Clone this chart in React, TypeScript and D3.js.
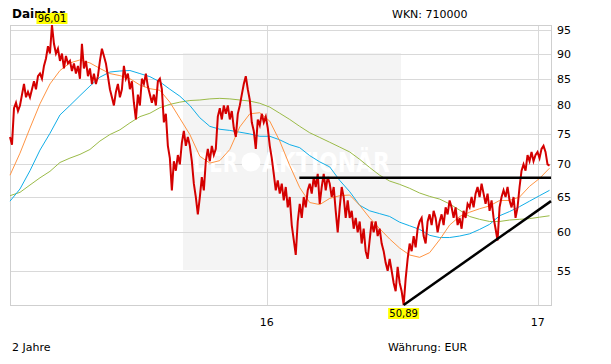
import React from 'react';
import * as d3 from 'd3';

// ---- data ----
const START = new Date(2015, 0, 19);
const END = new Date(2017, 0, 19);
const STEP_DAYS = 2.7; // spacing of price samples
const MA_STEP = 5; // moving-average samples every 5 price samples

const price = [
  74.5, 73.2, 79.5, 80.5, 79, 80, 82, 84, 81.5, 82.5,
  81.5, 83, 84.5, 83, 85.5, 86, 85, 87.5, 89, 91.5,
  90, 96.01, 92, 90, 91, 88.5, 90, 87, 89.5, 88,
  88.5, 86.5, 88, 86, 87.5, 85, 92, 87, 88.5, 85.5,
  87, 84, 86, 84, 85.5, 88.5, 91, 89.5, 88, 85.5,
  83, 81.5, 80, 82.5, 84, 81.5, 83, 87.5, 85, 86,
  83, 84.5, 80.5, 77.5, 82, 80, 85, 84, 86, 83.5,
  82, 80.5, 82, 80, 84.5, 85, 83, 77, 78.5, 73,
  71, 66, 70.5, 69, 71.5, 70, 73.5, 75.5, 73, 74.5,
  73, 70.5, 67, 65, 62.5, 65, 68, 66, 70.5, 72.5,
  70.5, 73, 71.5, 72.5, 78, 79.5, 77.5, 80, 78.5, 80,
  77.5, 79, 76, 74.5, 78.5, 80, 82, 84, 85.5, 83,
  81, 77, 75.5, 72.5, 77.5, 76.5, 78.5, 77, 78, 76,
  73, 71, 68.5, 66, 67.5, 65.5, 67, 64.5, 66.5, 63.5,
  65, 61, 59, 57, 61.5, 64, 62, 65, 63.5, 66,
  67, 65.5, 68, 66.5, 68.5, 64, 66.5, 68.5, 66, 68,
  67, 65, 66.5, 63, 60, 63.5, 66.5, 65, 62, 64.5,
  62, 63, 60.5, 62, 60, 61.5, 58.5, 60.5, 57.5, 56.5,
  59, 61.5, 60, 61.5, 59.5, 60.5, 58.5, 57.5, 56, 55,
  56.5, 55, 53.5, 52.5, 55.5, 53.5, 52.5, 50.89, 54, 56.5,
  58.5, 57.5, 59.5, 58, 60.5, 61.5, 62, 59.5, 58.5, 61.5,
  62.5, 61, 63, 62, 60, 61.5, 62.5, 61, 63.5, 62.5,
  64.5, 63.5, 62, 63.5, 61, 62, 60.5, 63, 62, 64,
  63.5, 65, 63.5, 65.5, 66.5, 65, 67, 65.5, 64, 65.5,
  63, 64.5, 62, 60.5, 58.9, 63.5, 65, 66, 65, 66.5,
  64.5, 63.5, 65, 62, 63.5, 66.5, 69, 70, 69, 71.5,
  70.5, 72, 70.5, 71.5, 72, 71, 72.5, 73, 72, 70,
  69.8,
];

const maShort = [
  68.3, 71.8, 76.0, 80.3, 84.0, 86.6, 88.1, 88.7, 88.1, 87.0,
  86.0, 85.6, 85.0, 83.8, 83.1, 82.8, 80.6, 77.7, 74.9, 71.3,
  70.2, 70.6, 72.4, 76.2, 78.5, 78.7, 77.2, 73.8, 69.8, 66.4,
  64.2, 63.9, 64.8, 65.2, 65.3, 63.8, 62.0, 60.5, 59.1, 57.9,
  57.0, 56.7, 57.3, 59.0, 61.0, 62.2, 62.8, 63.3, 63.7, 64.5,
  64.5, 65.0, 66.6, 67.8, 69.4,
];

const maMid = [
  64.4, 66.2, 69.0, 72.3, 75.1, 78.3, 80.0, 81.8, 83.6, 85.3,
  86.3, 86.5, 86.6, 86.0, 85.4, 84.4, 83.0, 81.7, 80.0, 77.8,
  76.3, 75.8, 75.6, 75.3, 75.0, 74.6, 74.6, 74.0, 73.2, 72.7,
  71.4, 70.4, 69.6, 67.5, 65.8, 63.8, 63.0, 62.6, 62.2, 61.4,
  60.9, 60.4, 59.6, 59.3, 59.3, 59.5, 59.8, 60.4, 61.1, 62.3,
  62.9, 63.6, 64.4, 65.2, 66.0,
];

const maLong = [
  65.2, 65.7, 66.8, 67.9, 68.9, 70.3, 71.0, 71.6, 72.4, 73.8,
  74.9, 75.7, 76.9, 78.0, 78.6, 79.6, 80.2, 80.6, 80.9, 81.0,
  81.2, 81.3, 81.2, 81.0, 80.8, 80.4, 79.7, 78.6, 77.5, 76.3,
  75.2, 74.4, 73.6, 72.8, 72.0, 70.8, 69.5, 68.3, 67.4, 66.9,
  66.3, 65.6, 65.1, 64.7, 64.0, 63.1, 62.2, 61.8, 61.5, 61.5,
  61.7, 61.8, 61.9, 62.1, 62.3,
];

const yTicks = [55, 60, 65, 70, 75, 80, 85, 90, 95];
const xTickDates = [new Date(2016, 0, 1), new Date(2017, 0, 1)];
const xTickLabels = ['16', '17'];
const resistanceDates = [new Date(2016, 1, 14), END];
const resistanceValues = [67.9, 67.9];
const supportEndValue = 64.4;

// ---- layout ----
const W = 611;
const H = 364;
const L = 10, R = 551, T = 25, B = 305;

const DAY = 864e5;
const priceDates = price.map((_, i) => new Date(START.getTime() + i * STEP_DAYS * DAY));
const maDates = maShort.map((_, j) => priceDates[j * MA_STEP]);

const x = d3.scaleTime().domain([START, END]).range([L, R]);
const y = d3.scaleLog().domain([d3.min(price)!, d3.max(price)!]).range([B, T]);

const fmt = (v: number) => v.toFixed(2).replace('.', ',');

export default function App() {
  const line = d3.line<[Date, number]>().x(d => x(d[0])).y(d => y(d[1]));
  const pricePath = line(priceDates.map((d, i) => [d, price[i]]))!;
  const maPath = (arr: number[]) => line(maDates.map((d, j) => [d, arr[j]]))!;

  const maxI = d3.maxIndex(price);
  const minI = d3.minIndex(price);
  const maxX = x(priceDates[maxI]);
  const maxY = y(price[maxI]);
  const minX = x(priceDates[minI]);
  const minY = y(price[minI]);

  const font = '"DejaVu Sans", Verdana, sans-serif';

  return (
    <svg width={W} height={H} style={{ position: 'absolute', left: 0, top: 0, background: '#fff' }}
      fontFamily={font}>
      <rect x={0} y={0} width={W} height={H} fill="#fff" />
      {/* watermark box */}
      <rect x={183} y={53} width={218} height={217} fill="#f4f4f4" />
      {/* grid */}
      {yTicks.map(t => (
        <line key={t} x1={L} x2={R} y1={Math.round(y(t)) + 0.5} y2={Math.round(y(t)) + 0.5} stroke="#d9d9d9" />
      ))}
      {xTickDates.map((d, i) => (
        <line key={i} x1={Math.round(x(d)) + 0.5} x2={Math.round(x(d)) + 0.5} y1={T} y2={B} stroke="#d9d9d9" />
      ))}
      <rect x={L + 0.5} y={T + 0.5} width={R - L} height={B - T} fill="none" stroke="#cfcfcf" />
      {/* watermark text */}
      <g fill="#ffffff" fontWeight="bold" fontSize={26} fontFamily='"DejaVu Sans", sans-serif'>
        <text x={193} y={172} textLength={45} lengthAdjust="spacingAndGlyphs">DER</text>
        <circle cx={251} cy={162} r={9.5} />
        <text x={262} y={172} textLength={128} lengthAdjust="spacingAndGlyphs">AKTIONÄR</text>
      </g>
      {/* moving averages */}
      <path d={maPath(maLong)} fill="none" stroke="#9bbb48" strokeWidth={1} />
      <path d={maPath(maMid)} fill="none" stroke="#11aee8" strokeWidth={1} />
      <path d={maPath(maShort)} fill="none" stroke="#ff9443" strokeWidth={1} />
      {/* price */}
      <path d={pricePath} fill="none" stroke="#d40000" strokeWidth={2} strokeLinejoin="miter" />
      {/* trend lines */}
      <line x1={x(resistanceDates[0])} x2={x(resistanceDates[1])} y1={y(resistanceValues[0])} y2={y(resistanceValues[1])}
        stroke="#000" strokeWidth={2.5} />
      <line x1={minX} y1={minY} x2={x(END)} y2={y(supportEndValue)} stroke="#000" strokeWidth={2.5} />
      {/* y axis labels */}
      {yTicks.map(t => (
        <text key={t} x={557} y={y(t) + 4} fontSize={11} fill="#000">{t}</text>
      ))}
      {/* x axis labels */}
      {xTickDates.map((d, i) => (
        <text key={i} x={x(d)} y={326} fontSize={11} textAnchor="middle" fill="#000">{xTickLabels[i]}</text>
      ))}
      {/* title */}
      <text x={12} y={18} fontSize={12} fontWeight="bold" fill="#000">Daimler</text>
      <text x={392} y={18} fontSize={11} fill="#000">WKN: 710000</text>
      <text x={12} y={351} fontSize={11} fill="#000">2 Jahre</text>
      <text x={388} y={351} fontSize={11} fill="#000">Währung: EUR</text>
      {/* max / min labels */}
      <rect x={maxX - 15.5} y={maxY - 12} width={31} height={11} fill="#ffff00" />
      <text x={maxX} y={maxY - 3} fontSize={10} textAnchor="middle" fill="#000">{fmt(price[maxI])}</text>
      <rect x={minX - 15.5} y={minY + 3} width={31} height={11} fill="#ffff00" />
      <text x={minX} y={minY + 12} fontSize={10} textAnchor="middle" fill="#000">{fmt(price[minI])}</text>
    </svg>
  );
}
